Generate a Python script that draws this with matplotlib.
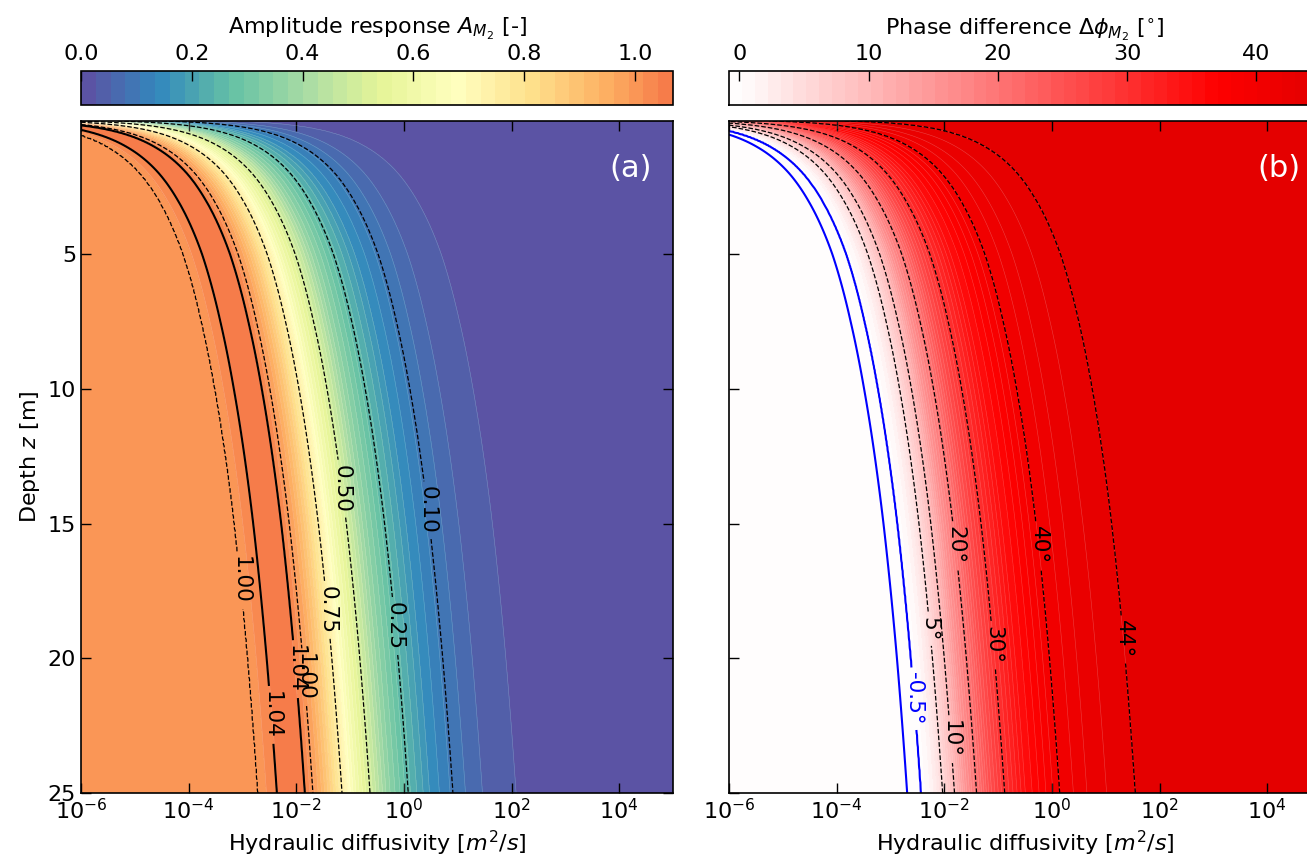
"""Tidal amplitude response and phase difference versus diffusivity and depth."""

import matplotlib

matplotlib.use("Agg")
import matplotlib.pyplot as plt  # noqa: E402
import numpy as np  # noqa: E402
from matplotlib.colors import LinearSegmentedColormap  # noqa: E402
from matplotlib.ticker import NullLocator  # noqa: E402

# Amplitude response A_M2 along log10(D) at the deepest level (z = 25 m)
AMP_LOGD = [-6.0, -3.20, -2.71, -2.50, -2.36, -2.23, -2.10, -1.97, -1.84, -1.69,
            -1.55, -1.40, -1.28, -1.15, -0.90, -0.63, -0.30, 0.08, 0.50, 0.91,
            1.50, 2.07, 3.00, 5.00, 7.00, 11.0]
AMP_VAL = [0.998, 0.997, 1.000, 1.021, 1.040, 1.061, 1.069, 1.064, 1.040, 1.000,
           0.945, 0.876, 0.815, 0.750, 0.618, 0.500, 0.360, 0.250, 0.155, 0.100,
           0.050, 0.027, 0.0093, 0.001, 0.0001, 0.0]

# Phase difference (degrees) along log10(D) at z = 25 m
PH_LOGD = [-6.0, -3.00, -2.85, -2.69, -2.56, -2.43, -2.30, -2.17, -2.03, -1.81,
           -1.60, -1.40, -1.15, -0.878, -0.50, 0.143, 0.80, 1.547, 2.50, 4.00, 11.0]
PH_VAL = [0.0, 0.02, -0.16, -0.50, -0.79, -0.50, 0.60, 2.5, 5.0, 10.0,
          15.7, 20.0, 25.6, 30.0, 35.0, 40.0, 42.6, 44.0, 44.7, 44.95, 45.0]

# Horizontal offset (decades of D) of the response pattern at each depth
DEPTH_KNOTS = [0.05, 0.25, 0.5, 1.0, 2.0, 3.0, 5.0, 7.5, 10.0, 15.0, 20.0, 25.0]
SHIFT = [-5.40, -4.00, -3.40, -2.80, -2.19, -1.84, -1.39, -1.05, -0.80, -0.44, -0.19, 0.0]

AMP_LINES = [0.10, 0.25, 0.50, 0.75, 1.00]
AMP_PEAK = [1.04]
PH_LINES = [5, 10, 20, 30, 40, 44]
PH_NEG = [-0.5]

# label anchors (log10 D, depth)
AMP_LABELS = [(-3.04, 17.1), (-1.86, 20.7), (-1.37, 18.2), (-1.09, 13.7), (-0.07, 18.8), (0.39, 14.5)]
PEAK_LABELS = [(-2.49, 22.1), (-2.01, 20.4)]
PH_LABELS = [(-1.80, 15.8), (-0.32, 15.8), (-2.27, 18.9), (-1.15, 19.5), (1.26, 19.3), (-1.90, 23.0)]
NEG_LABELS = [(-2.58, 21.5)]

FS = 16
LFS = 15.5

logd = np.linspace(-6, 5, 700)
depth = np.linspace(0.05, 25, 500)
L, Z = np.meshgrid(logd, depth)
S = L - np.interp(np.log10(Z), np.log10(DEPTH_KNOTS), SHIFT)
A = np.interp(S, AMP_LOGD, AMP_VAL)
P = np.interp(S, PH_LOGD, PH_VAL)
D = 10.0 ** L

# white -> red -> dark red (upper half of seismic)
sei = plt.get_cmap("seismic")
white_red = LinearSegmentedColormap.from_list("white_red", [sei(0.5), sei(0.75), sei(1.0)])


def to_xy(pts):
    return [(10.0 ** x, y) for x, y in pts]


def deg(v):
    return f"{v:g}°"


def label(ax, cs, fmt, pts):
    texts = ax.clabel(cs, fmt=fmt, fontsize=LFS, manual=to_xy(pts), inline=True)
    # labels read downward along the steep contours
    for t in texts:
        r = t.get_rotation() % 360
        if r < 180:
            t.set_rotation(r + 180)


fig = plt.figure(figsize=(13.07, 8.6), dpi=100)
ax_a = fig.add_axes([0.062, 0.0779, 0.4529, 0.7814])
ax_b = fig.add_axes([0.5578, 0.0779, 0.4529, 0.7814])
cax_a = fig.add_axes([0.062, 0.878, 0.4529, 0.0395])
cax_b = fig.add_axes([0.5578, 0.878, 0.4529, 0.0395])

# (a) amplitude
lev_a = np.linspace(0.0, A.max(), 41)
cf_a = ax_a.contourf(D, Z, A, levels=lev_a, cmap="Spectral_r", vmin=0, vmax=1.36)
ax_a.contour(D, Z, A, levels=lev_a, colors="white", linewidths=0.4, alpha=0.25)
cs = ax_a.contour(D, Z, A, levels=AMP_LINES, colors="k", linewidths=0.9, linestyles="--")
label(ax_a, cs, "%.2f", AMP_LABELS)
cs = ax_a.contour(D, Z, A, levels=AMP_PEAK, colors="k", linewidths=1.5, linestyles="solid")
label(ax_a, cs, "%.2f", PEAK_LABELS)

# (b) phase
lev_b = np.linspace(P.min(), P.max(), 47)
cf_b = ax_b.contourf(D, Z, P, levels=lev_b, cmap=white_red, vmin=0, vmax=74)
ax_b.contour(D, Z, P, levels=lev_b, colors="white", linewidths=0.4, alpha=0.25)
cs = ax_b.contour(D, Z, P, levels=PH_LINES, colors="k", linewidths=0.9, linestyles="--")
label(ax_b, cs, deg, PH_LABELS)
cs = ax_b.contour(D, Z, P, levels=PH_NEG, colors="blue", linewidths=1.5, linestyles="solid")
label(ax_b, cs, deg, NEG_LABELS)

for ax, tag in ((ax_a, "(a)"), (ax_b, "(b)")):
    ax.set_xscale("log")
    ax.set_xlim(1e-6, 1e5)
    ax.set_ylim(25, 0.05)
    ax.set_xticks([1e-6, 1e-4, 1e-2, 1e0, 1e2, 1e4])
    ax.xaxis.set_minor_locator(NullLocator())
    ax.set_yticks([5, 10, 15, 20, 25])
    ax.tick_params(direction="in", top=True, right=True, length=7, width=1, labelsize=FS)
    ax.set_xlabel("Hydraulic diffusivity [$m^2/s$]", fontsize=FS)
    for sp in ax.spines.values():
        sp.set_linewidth(1.2)
    ax.text(0.965, 0.93, tag, transform=ax.transAxes, color="white", fontsize=22,
            ha="right", va="center")

ax_a.set_ylabel("Depth $z$ [m]", fontsize=FS)
ax_b.tick_params(labelleft=False)

cb = fig.colorbar(cf_a, cax=cax_a, orientation="horizontal", ticks=[0, 0.2, 0.4, 0.6, 0.8, 1.0], format="%.1f")
cb.set_label("Amplitude response $A_{M_2}$ [-]", fontsize=FS, labelpad=7)
cb2 = fig.colorbar(cf_b, cax=cax_b, orientation="horizontal", ticks=[0, 10, 20, 30, 40])
cb2.set_label(r"Phase difference $\Delta\phi_{M_2}$ [$^{\circ}$]", fontsize=FS, labelpad=7)
for c in (cb, cb2):
    c.ax.xaxis.set_ticks_position("top")
    c.ax.xaxis.set_label_position("top")
    c.ax.tick_params(direction="in", length=7, width=1, labelsize=FS, pad=5)
    c.outline.set_linewidth(1.2)

fig.savefig("out.png", dpi=100)
